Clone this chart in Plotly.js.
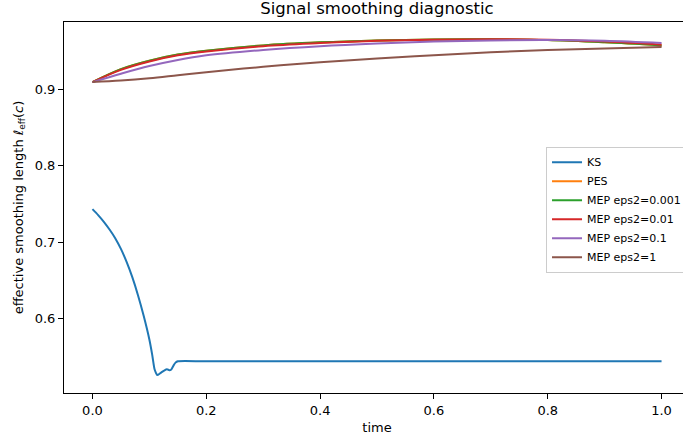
<!DOCTYPE html>
<html>
<head>
<meta charset="utf-8">
<script src="https://cdn.plot.ly/plotly-3.0.1.min.js"></script>
<style>
html,body{margin:0;padding:0;overflow:hidden;background:#fff;}
#chart{width:690px;height:441px;}
</style>
</head>
<body>
<div id="chart"></div>
<script>
// KS series (dense near the initial transient)
var ksTime = [0, 0.01, 0.02, 0.03, 0.04, 0.05, 0.06, 0.07, 0.08, 0.09, 0.10, 0.105, 0.109, 0.1115, 0.1137, 0.12, 0.126, 0.131, 0.135, 0.138, 0.142, 0.146, 0.15, 0.2, 1.0];
var ksValues = [0.743, 0.7352, 0.7264, 0.7164, 0.705, 0.691, 0.674, 0.654, 0.6305, 0.6035, 0.5725, 0.5525, 0.534, 0.529, 0.526, 0.529, 0.532, 0.5336, 0.5325, 0.533, 0.538, 0.5423, 0.544, 0.544, 0.544];

// Smooth series
var time = [0, 0.05, 0.1, 0.15, 0.2, 0.3, 0.4, 0.5, 0.6, 0.7, 0.8, 0.9, 1.0];
var pesValues     = [0.909, 0.926, 0.937, 0.945, 0.950, 0.957, 0.961, 0.9635, 0.9648, 0.965, 0.964, 0.961, 0.957];
var mep0001Values = [0.909, 0.926, 0.937, 0.945, 0.950, 0.957, 0.961, 0.9635, 0.9648, 0.965, 0.964, 0.961, 0.957];
var mep001Values  = [0.909, 0.925, 0.936, 0.944, 0.949, 0.956, 0.960, 0.963, 0.9645, 0.965, 0.9645, 0.962, 0.958];
var mep01Values   = [0.909, 0.920, 0.930, 0.938, 0.944, 0.951, 0.956, 0.9595, 0.962, 0.9635, 0.964, 0.963, 0.960];
var mep1Values    = [0.909, 0.911, 0.914, 0.918, 0.922, 0.929, 0.935, 0.940, 0.944, 0.948, 0.951, 0.953, 0.955];

var seriesNames = ["KS", "PES", "MEP eps2=0.001", "MEP eps2=0.01", "MEP eps2=0.1", "MEP eps2=1"];
var colors = ["#1f77b4", "#ff7f0e", "#2ca02c", "#d62728", "#9467bd", "#8c564b"];

var xs = [ksTime, time, time, time, time, time];
var ys = [ksValues, pesValues, mep0001Values, mep001Values, mep01Values, mep1Values];

var traces = seriesNames.map(function(n, i){
  return {
    x: xs[i], y: ys[i], name: n, type: "scatter", mode: "lines",
    line: {color: colors[i], width: 2, shape: "spline", smoothing: i === 0 ? 0.6 : 1}
  };
});

var font = "DejaVu Sans, sans-serif";
var layout = {
  width: 690, height: 441,
  margin: {l: 64, r: 0, t: 22, b: 48},
  paper_bgcolor: "#fff", plot_bgcolor: "#fff",
  font: {family: font, size: 13, color: "#000"},
  title: {text: "Signal smoothing diagnostic", font: {family: font, size: 16.5, color: "#000"}, x: 0.5, xref: "paper", y: 1, yref: "container", yanchor: "top", pad: {t: 2}},
  xaxis: {
    range: [-0.05, 1.05], tickvals: [0, 0.2, 0.4, 0.6, 0.8, 1.0], ticktext: ["0.0", "0.2", "0.4", "0.6", "0.8", "1.0"],
    showgrid: false, zeroline: false, showline: true, mirror: true, linecolor: "#000", linewidth: 1,
    ticks: "outside", ticklen: 5, tickcolor: "#000", tickfont: {size: 13},
    title: {text: "time", font: {size: 13}, standoff: 6}
  },
  yaxis: {
    range: [0.5026, 0.9876], tickvals: [0.6, 0.7, 0.8, 0.9], ticktext: ["0.6", "0.7", "0.8", "0.9"],
    showgrid: false, zeroline: false, showline: true, mirror: true, linecolor: "#000", linewidth: 1,
    ticks: "outside", ticklen: 5, tickcolor: "#000", tickfont: {size: 13},
    title: {text: "effective smoothing length <i>ℓ</i><sub>eff</sub>(<i>c</i>)", font: {size: 13}, standoff: 8}
  },
  showlegend: true,
  legend: {
    x: 0.77, y: 0.664, xanchor: "left", yanchor: "top",
    bgcolor: "rgba(255,255,255,0.8)", bordercolor: "#cccccc", borderwidth: 1,
    font: {family: font, size: 11, color: "#000"}, itemwidth: 30
  }
};

Plotly.newPlot("chart", traces, layout, {displayModeBar: false, staticPlot: true});
</script>
</body>
</html>
